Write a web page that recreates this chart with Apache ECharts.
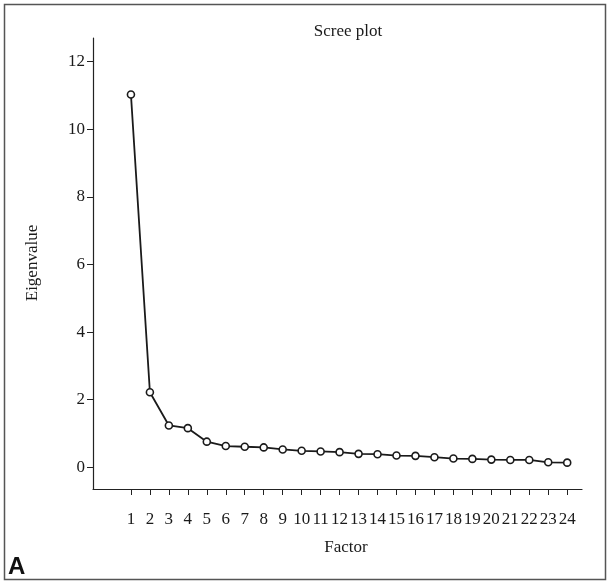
<!DOCTYPE html>
<html><head><meta charset="utf-8">
<script src="https://cdn.jsdelivr.net/npm/echarts@6/dist/echarts.min.js"></script>
<style>html,body{margin:0;padding:0;background:#fff}#c{width:610px;height:586px}</style>
</head><body><div id="c"></div>
<script>
const factors = [1,2,3,4,5,6,7,8,9,10,11,12,13,14,15,16,17,18,19,20,21,22,23,24];
const eigenvalues = [11.03,2.22,1.24,1.16,0.76,0.63,0.61,0.59,0.53,0.49,0.47,0.45,0.40,0.39,0.35,0.34,0.30,0.26,0.25,0.23,0.22,0.22,0.15,0.14];
const yTicks = [0,2,4,6,8,10,12];
const titleText = 'Scree plot';
const xName = 'Factor';
const yName = 'Eigenvalue';
const panelLabel = 'A';

const serif = '"Liberation Serif", "DejaVu Serif", serif';
const chart = echarts.init(document.getElementById('c'), null, {renderer:'canvas'});
chart.setOption({
  animation:false,
  backgroundColor:'#fff',
  grid:{left:93,right:28,top:38,bottom:97,containLabel:false},
  xAxis:{type:'value',min:-1,max:24.78,
    axisLine:{show:true,onZero:false,lineStyle:{color:'#222',width:1.2}},
    axisTick:{show:true,customValues:factors,length:6,inside:false,lineStyle:{color:'#222',width:1}},
    axisLabel:{show:true,customValues:factors,margin:22,color:'#1a1a1a',fontFamily:serif,fontSize:17},
    splitLine:{show:false}},
  yAxis:{type:'value',min:-0.64,max:12.70,
    axisLine:{show:true,onZero:false,lineStyle:{color:'#222',width:1.2}},
    axisTick:{show:true,customValues:yTicks,length:6,lineStyle:{color:'#222',width:1}},
    axisLabel:{show:true,customValues:yTicks,margin:8,color:'#1a1a1a',fontFamily:serif,fontSize:17},
    splitLine:{show:false}},
  series:[{type:'line',data:factors.map((f,i)=>[f,eigenvalues[i]]),
    symbol:'circle',symbolSize:7,
    lineStyle:{color:'#1a1a1a',width:1.8},
    itemStyle:{color:'#fff',borderColor:'#1a1a1a',borderWidth:1.6}}],
  graphic:[
    {type:'rect',shape:{x:4.5,y:4.5,width:601,height:575},style:{fill:'none',stroke:'#555',lineWidth:1.5},silent:true},
    {type:'text',x:348,y:32,style:{text:titleText,font:'17px '+serif,fill:'#1a1a1a',textAlign:'center',textVerticalAlign:'middle'}},
    {type:'text',x:346,y:548,style:{text:xName,font:'17px '+serif,fill:'#1a1a1a',textAlign:'center',textVerticalAlign:'middle'}},
    {type:'text',x:33,y:263,rotation:Math.PI/2,style:{text:yName,font:'17px '+serif,fill:'#1a1a1a',textAlign:'center',textVerticalAlign:'middle'}},
    {type:'text',x:8,y:567,style:{text:panelLabel,font:'bold 24px "Liberation Sans", Arial, sans-serif',fill:'#111',textAlign:'left',textVerticalAlign:'middle'}}
  ]
});
</script></body></html>
